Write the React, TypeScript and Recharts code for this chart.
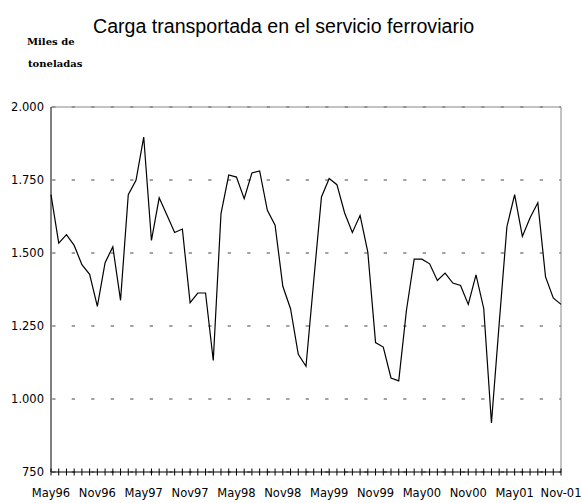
import { CartesianGrid, Line, LineChart, ReferenceLine, XAxis, YAxis } from "recharts"

const months = [
  "May96", "Jun96", "Jul96", "Ago96", "Sep96", "Oct96", "Nov96", "Dic96",
  "Ene97", "Feb97", "Mar97", "Abr97", "May97", "Jun97", "Jul97", "Ago97", "Sep97", "Oct97", "Nov97", "Dic97",
  "Ene98", "Feb98", "Mar98", "Abr98", "May98", "Jun98", "Jul98", "Ago98", "Sep98", "Oct98", "Nov98", "Dic98",
  "Ene99", "Feb99", "Mar99", "Abr99", "May99", "Jun99", "Jul99", "Ago99", "Sep99", "Oct99", "Nov99", "Dic99",
  "Ene00", "Feb00", "Mar00", "Abr00", "May00", "Jun00", "Jul00", "Ago00", "Sep00", "Oct00", "Nov00", "Dic00",
  "Ene01", "Feb01", "Mar01", "Abr01", "May01", "Jun01", "Jul01", "Ago01", "Sep01", "Oct01", "Nov-01",
]

// miles de toneladas
const carga = [
  1700, 1534, 1563, 1526, 1460, 1427, 1317, 1467,
  1521, 1338, 1700, 1749, 1897, 1543, 1689, 1630, 1570, 1582, 1330, 1363,
  1363, 1132, 1635, 1767, 1760, 1686, 1774, 1781, 1646, 1595, 1386, 1309,
  1153, 1112, 1405, 1692, 1755, 1734, 1637, 1570, 1629, 1503, 1193, 1178,
  1072, 1062, 1304, 1479, 1479, 1463, 1406, 1431, 1397, 1389, 1324, 1425,
  1310, 918, 1258, 1590, 1700, 1557, 1621, 1672, 1418, 1346, 1324,
]

const xLabels = ["May96", "Nov96", "May97", "Nov97", "May98", "Nov98", "May99", "Nov99", "May00", "Nov00", "May01", "Nov-01"]
const yTicks = [750, 1000, 1250, 1500, 1750, 2000]

const data = months.map((m, i) => ({ mes: m, carga: carga[i] }))

const axisFont = "'DejaVu Sans', sans-serif"

function MonthTick(props: any) {
  const { x, y, payload } = props
  const show = xLabels.includes(payload.value)
  return (
    <g>
      <line x1={x} x2={x} y1={y - 3.5} y2={y + 3.5} stroke="#000" strokeWidth={1} />
      {show && (
        <text x={x} y={y + 25} textAnchor="middle" fontSize={11.5} fontFamily={axisFont} fill="#000">
          {payload.value}
        </text>
      )}
    </g>
  )
}

export default function App() {
  return (
    <div style={{ position: "absolute", left: 0, top: 0, width: 582, height: 503, background: "#fff" }}>
      <LineChart width={582} height={503} data={data} margin={{ top: 107, right: 21, left: 0, bottom: 1 }}>
        <CartesianGrid
          vertical={false}
          stroke="#444"
          strokeDasharray="3.3 16.2"
          strokeDashoffset={-1.2}
        />
        <XAxis
          dataKey="mes"
          interval={0}
          tickSize={0}
          tickMargin={0}
          height={30}
          tickLine={false}
          tick={<MonthTick />}
          axisLine={{ stroke: "#000" }}
        />
        <YAxis
          domain={[750, 2000]}
          ticks={yTicks}
          width={51}
          tickSize={0}
          tickMargin={7}
          tickLine={false}
          axisLine={{ stroke: "#000" }}
          tick={{ fontSize: 11.5, fontFamily: axisFont, fill: "#000" }}
          tickFormatter={(v: number) => v.toLocaleString("de-DE")}
        />
        <ReferenceLine y={2000} stroke="#888" />
        <ReferenceLine x="Nov-01" stroke="#888" />
        <Line
          type="linear"
          dataKey="carga"
          stroke="#000"
          strokeWidth={1.2}
          dot={false}
          isAnimationActive={false}
        />
      </LineChart>
      <svg
        width={582}
        height={100}
        style={{ position: "absolute", left: 0, top: 0, pointerEvents: "none" }}
      >
        <text x={93} y={33.3} fontSize={19.6} fontFamily="'Liberation Sans', Arial, sans-serif" fill="#000">
          Carga transportada en el servicio ferroviario
        </text>
        <text x={27} y={45} fontSize={10} fontWeight="bold" fontFamily="'DejaVu Serif', serif" fill="#000">
          Miles de
        </text>
        <text x={28} y={66.7} fontSize={10} fontWeight="bold" fontFamily="'DejaVu Serif', serif" fill="#000">
          toneladas
        </text>
      </svg>
    </div>
  )
}
